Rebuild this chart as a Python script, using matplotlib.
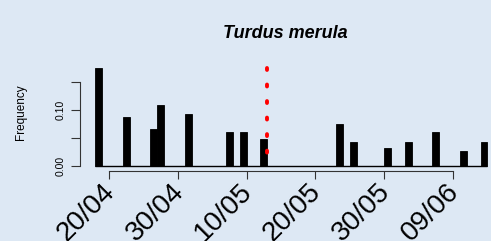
import matplotlib
matplotlib.use("Agg")
import matplotlib.pyplot as plt
from matplotlib.transforms import ScaledTranslation

# day of year for each one-day bin (bin covers [day, day+1])
bar_days = [108, 112, 116, 117, 121, 127, 129, 132, 143, 145, 150, 153, 157, 161, 164]
bar_freqs = [0.174, 0.087, 0.066, 0.109, 0.092, 0.061, 0.061, 0.048,
             0.075, 0.043, 0.032, 0.043, 0.061, 0.026, 0.043]
marker_day = 133.0

tick_days = [110, 120, 130, 140, 150, 160]
tick_labels = ["20/04", "30/04", "10/05", "20/05", "30/05", "09/06"]
ytick_vals = [0.0, 0.05, 0.10, 0.15]
ytick_labels = ["0.00", "", "0.10", ""]

bg = "#dde8f4"
W, H = 491, 241

fig = plt.figure(figsize=(W / 100, H / 100), dpi=100, facecolor=bg)
ax = fig.add_axes([80 / W, (H - 171) / H, 411 / W, 151 / H])
ax.set_facecolor(bg)

ax.bar(bar_days, bar_freqs, width=1.0, align="edge", color="black",
       edgecolor="black", linewidth=0.6, zorder=2)
ax.hlines(0, min(bar_days), max(bar_days) + 1, color="black", lw=1.0, zorder=2)
ax.plot([marker_day, marker_day], [max(bar_freqs), 0], color="#ff0000", lw=2.8,
        linestyle=(0, (0.5, 3.75)), dash_capstyle="round", zorder=3)

ax.set_xlim(105.785, 165.523)
ax.set_ylim(-5 / 563, 146 / 563)

for s in ["top", "right"]:
    ax.spines[s].set_visible(False)
ax.spines["left"].set_bounds(0, 0.15)
ax.spines["bottom"].set_bounds(110, 160)
for s in ["left", "bottom"]:
    ax.spines[s].set_color("#333333")
    ax.spines[s].set_linewidth(0.8)

ax.set_yticks(ytick_vals)
ax.set_yticklabels(ytick_labels, rotation=90, va="center",
                   fontfamily="Liberation Sans", fontsize=7.5)
ax.tick_params(axis="y", length=6.5, width=0.8, color="#333333", pad=3.5)

ax.set_xticks(tick_days)
ax.set_xticklabels(tick_labels, rotation=45, ha="right", va="center",
                   rotation_mode="anchor", fontfamily="Liberation Sans", fontsize=20)
ax.tick_params(axis="x", length=6, width=0.8, color="#333333", pad=2)
for lab in ax.get_xticklabels():
    lab.set_transform(lab.get_transform() + ScaledTranslation(2 / 100, -5.5 / 100, fig.dpi_scale_trans))

fig.text(21 / W, 1 - 112 / H, "Frequency", rotation=90, ha="center", va="center",
         fontfamily="Liberation Sans", fontsize=8.5)
fig.text(285.5 / W, 1 - 34 / H, "Turdus merula", ha="center", va="center",
         fontfamily="Liberation Sans", fontweight="bold", fontstyle="italic", fontsize=13)

fig.savefig("out.png", dpi=100, facecolor=bg)
